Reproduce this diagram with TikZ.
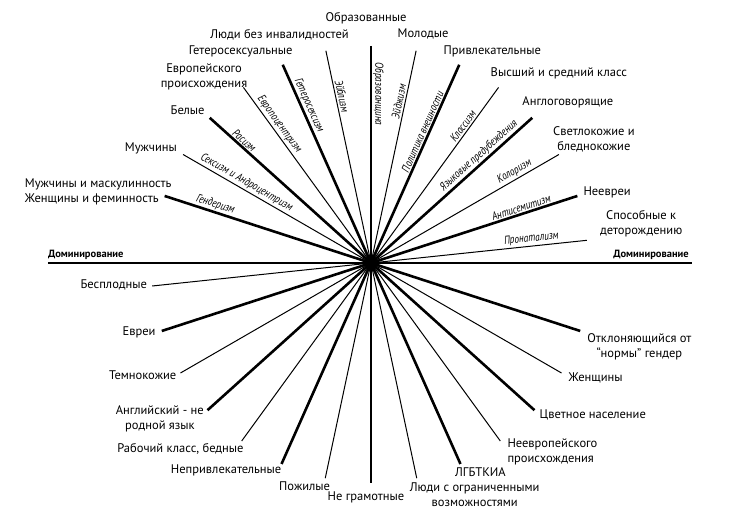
\documentclass[tikz,border=0pt]{standalone}
\usepackage{fontspec}
\setmainfont{PT Sans}
\usetikzlibrary{positioning,calc}
\tikzset{
	ray/.style={black, line width=1pt},
	bray/.style={black, line width=2.6pt},
	lbl/.style={font=\fontsize{12.5}{15}\selectfont, inner sep=0pt, align=center},
	dom/.style={font=\fontsize{10.5}{12}\selectfont\bfseries, inner sep=0pt},
	ism/.style={font=\fontsize{11.5}{13}\selectfont\itshape, inner sep=2pt, anchor=south},
}

\begin{document}
\begin{tikzpicture}[x=1pt, y=1pt]
	\useasboundingbox (-371,-261) rectangle (369,263);
	
	% ends of the rays
	\foreach \a in {6,18,...,162} {
		\coordinate (t\a) at (\a:217);
		\coordinate (b\a) at (\a+180:220);
	}
	\coordinate (hl) at (-323,0);
	\coordinate (hr) at (321,0);
	
	\draw[bray] (hl) -- (hr);
	\foreach \a in {6,30,54,78,102,126,150}
	\draw[ray] (t\a) -- (b\a);
	\foreach \a in {18,42,66,90,114,138,162}
	\draw[bray] (t\a) -- (b\a);
	
	% names of the isms, right half reads outward
	\foreach \a/\d/\t in {6/162/Пронатализм, 18/160/Антисемитизм, 30/170/Колоризм, 42/152/Языковые предубеждения, 54/165/Классизм, 66/141/Политика внешности, 78/164/Эйджизм}
	\node[ism, rotate=\a, xscale=0.8] (ism\a) at (\a:\d) {\t};
	% left half reads inward
	\foreach \a/\d/\t in {90/169/Образованщина, 102/169/Эйблизм, 114/169/Гетеросексизм, 126/166/Европоцентризм, 138/176/Расизм, 150/148/Сексизм и Андроцентризм, 162/166/Гендеризм}
	\node[ism, rotate=\a-180, xscale=0.8] (ism\a) at (\a:\d) {\t};
	
	\node[dom, above left=3pt and 3pt of hr] (domr) {Доминирование};
	\node[dom, above right=3pt and 0pt of hl] (doml) {Доминирование};
	
	% dominant groups
	\node[lbl, above=22pt of t90, xshift=-5pt] (educ) {Образованные};
	\node[lbl, above=11pt of t78, xshift=7pt] (young) {Молодые};
	\node[lbl, above=8pt of t66, xshift=33pt] (attr) {Привлекательные};
	\node[lbl, above right=8pt and -8pt of t54] (upper) {Высший и средний класс};
	\node[lbl, above right=10pt and -10pt of t42] (engl) {Англоговорящие};
	\node[lbl, above right=2pt and -6pt of t30] (light) {Светлокожие и\\бледнокожие};
	\node[lbl, right=6pt of t18, yshift=4pt] (nonjew) {Неевреи};
	\node[lbl, above right=3pt and 13pt of t6] (fert) {Способные к\\деторождению};
	\node[lbl, align=left, left=-7pt of t162, yshift=4pt] (gend) {Мужчины и маскулинность\\Женщины и феминность};
	\node[lbl, left=6pt of t150, yshift=6pt] (men) {Мужчины};
	\node[lbl, above left=3pt and 5pt of t138] (white) {Белые};
	\node[lbl, above left=-3pt and -4pt of t126] (euro) {Европейского\\происхождения};
	\node[lbl, above left=7pt and -10pt of t114] (hetero) {Гетеросексуальные};
	\node[lbl, above left=10pt and -23pt of t102] (abled) {Люди без инвалидностей};
	
	% subordinated groups
	\node[lbl, left=5pt of b6, yshift=1pt] (barren) {Бесплодные};
	\node[lbl, left=6pt of b18, yshift=-1pt] (jews) {Евреи};
	\node[lbl, left=4pt of b30, yshift=-2pt] (dark) {Темнокожие};
	\node[lbl, below left=-5pt and 3.5pt of b42] (nonengl) {Английский - не\\родной язык};
	\node[lbl, below left=2pt and -2pt of b54] (poor) {Рабочий класс, бедные};
	\node[lbl, below left=1pt and 0pt of b66] (unattr) {Непривлекательные};
	\node[lbl, below left=3pt and -5pt of b78] (old) {Пожилые};
	\node[lbl, below=9pt of b90, xshift=-5pt] (illit) {Не грамотные};
	\node[lbl, below right=4pt and -7pt of b102] (disab) {Люди с ограниченными\\возможностями};
	\node[lbl, below right=3pt and -5.5pt of b114] (lgbt) {ЛГБТКИА};
	\node[lbl, align=left, below right=-2pt and 7pt of b126] (noneuro) {Неевропейского\\происхождения};
	\node[lbl, right=5pt of b138, yshift=-5pt] (color) {Цветное население};
	\node[lbl, right=7pt of b150, yshift=-5pt] (women) {Женщины};
	\node[lbl, below right=2pt and 7pt of b162] (gnc) {Отклоняющийся от\\“нормы” гендер};
\end{tikzpicture}
\end{document}
